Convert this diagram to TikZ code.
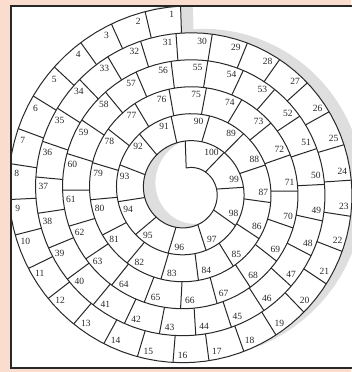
\documentclass[tikz,border=0pt]{standalone}
\usepackage{fontspec}
\setmainfont{Liberation Serif}
\definecolor{peach}{RGB}{251,221,208}
\definecolor{ink}{RGB}{40,40,40}
\tikzset{
  declare function={rr(\u)=185-0.075*\u;},
  spiral/.style={ink,line width=1pt},
  shade/.style={black!13},
  num/.style={font=\fontsize{9.5}{9.5}\selectfont,text=ink,inner sep=0pt},
}

\begin{document}
\begin{tikzpicture}[x=1pt,y=1pt]
\useasboundingbox (0,0) rectangle (351,372);
\fill[peach] (0,0) rectangle (351,372);
\fill[white] (11,4) rectangle (360,366);
\begin{scope}
\clip (11,4) rectangle (360,366);
% shadow of the strip
\begin{scope}[shift={(199,185)}]
\fill[shade] plot[domain=0:1800,samples=451,variable=\u] (92+\u:{rr(\u)})
  -- plot[domain=0:1800,samples=451,variable=\u] (1892-\u:{rr(1800-\u)-27}) -- cycle;
\end{scope}
\begin{scope}[shift={(187,181)}]
\fill[white] plot[domain=0:1800,samples=451,variable=\u] (92+\u:{rr(\u)})
  -- plot[domain=0:1800,samples=451,variable=\u] (1892-\u:{rr(1800-\u)-27}) -- cycle;
\draw[spiral] plot[domain=0:2160,samples=541,variable=\u] (92+\u:{rr(\u)});
% cell walls and numbers, turn by turn
\foreach \turn/\ncell/\da/\db in {0/30/0/2,1/25/2/5,2/20/5/8,3/15/8/10,4/10/10/0}{
  \pgfmathsetmacro\q{17.15-2.7*\turn}
  \pgfmathtruncatemacro\base{30*\turn-5*\turn*(\turn-1)/2}
  \foreach \i in {1,...,\ncell}{
    \pgfmathsetmacro\s{(\i-1)/\ncell}
    \pgfmathsetmacro\uu{360*\turn+133.333*(\q-sqrt(\q*\q-5.4*\s*(\q-1.35)))+\da*(1-\s)+\db*\s}
    \pgfmathsetmacro\ro{rr(\uu)}
    \pgfmathsetmacro\ri{\ro-27}
    \pgfmathsetmacro\rl{\ro-8}
    \pgfmathsetmacro\al{92+\uu+515/\rl}
    \pgfmathtruncatemacro\k{\base+\i}
    \draw[spiral] (92+\uu:\ro) -- (92+\uu:\ri);
    \node[num] (c\k) at (\al:\rl) {\k};
  }
}
\draw[spiral] (1892:{rr(1800)}) -- (1892:{rr(1800)-27});
\end{scope}
\end{scope}
\draw[ink,line width=1.4pt] (360,366) -- (11,366) -- (11,4) -- (360,4);
\end{tikzpicture}
\end{document}
